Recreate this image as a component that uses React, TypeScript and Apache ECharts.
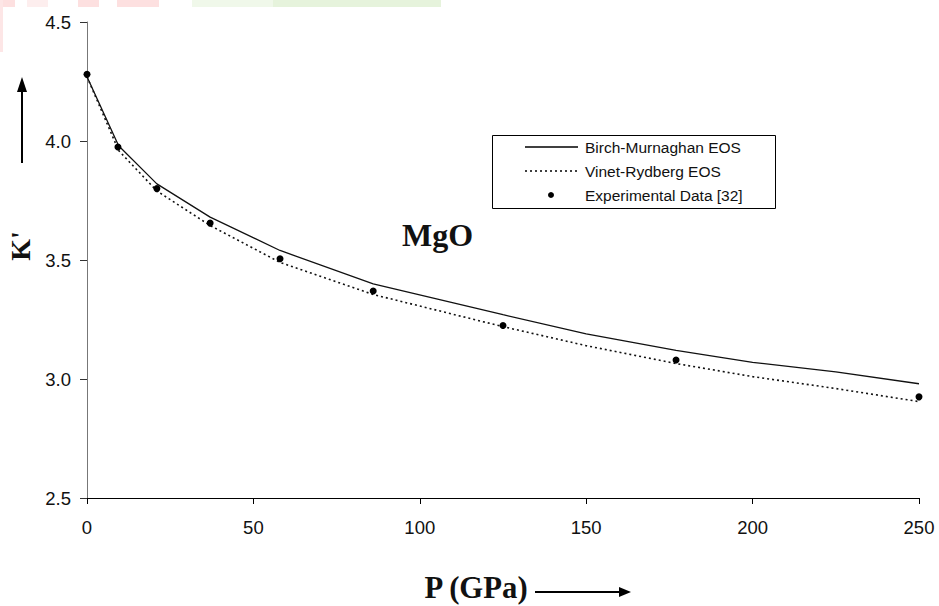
import React, { useEffect, useRef } from "react";
import * as echarts from "echarts";

const xTicks = [0, 50, 100, 150, 200, 250];
const yTicks = [2.5, 3.0, 3.5, 4.0, 4.5];

const bmP = [0, 9.5, 21, 37, 58, 86, 125, 150, 177, 200, 225, 250];
const bmK = [4.27, 3.98, 3.82, 3.68, 3.54, 3.4, 3.27, 3.19, 3.12, 3.07, 3.03, 2.98];

const vrP = [0, 9.5, 21, 37, 58, 86, 125, 150, 177, 200, 225, 250];
const vrK = [4.27, 3.96, 3.79, 3.645, 3.49, 3.355, 3.22, 3.14, 3.065, 3.01, 2.96, 2.905];

const expP = [0, 9.3, 21, 37, 58, 86, 125, 177, 250];
const expK = [4.28, 3.975, 3.8, 3.655, 3.505, 3.37, 3.225, 3.08, 2.925];

const seriesNames = ["Birch-Murnaghan EOS", "Vinet-Rydberg EOS", "Experimental Data [32]"];

export default function App() {
  const ref = useRef<HTMLDivElement>(null);
  useEffect(() => {
    document.body.style.margin = "0";
    const chart = echarts.init(ref.current!, undefined, { renderer: "svg" });
    const pair = (xs: number[], ys: number[]) => xs.map((x, i) => [x, ys[i]]);
    const legendFont = "15.5px 'Liberation Sans'";
    const rows = [147, 171, 195];
    chart.setOption({
      animation: false,
      backgroundColor: "#ffffff",
      grid: { left: 87, right: 20, top: 22, bottom: 108, containLabel: false },
      xAxis: {
        type: "value",
        min: 0,
        max: 250,
        interval: 50,
        axisLine: { show: true, onZero: false, lineStyle: { color: "#000", width: 1 } },
        axisTick: { show: true, length: 6, lineStyle: { color: "#000" } },
        axisLabel: {
          margin: 20,
          fontFamily: "Liberation Sans",
          fontSize: 18.5,
          color: "#111",
          formatter: (v: number) => (xTicks.includes(v) ? String(v) : ""),
        },
        splitLine: { show: false },
      },
      yAxis: {
        type: "value",
        min: 2.5,
        max: 4.5,
        interval: 0.5,
        axisLine: { show: true, onZero: false, lineStyle: { color: "#777", width: 1 } },
        axisTick: { show: true, length: 7, lineStyle: { color: "#333" } },
        axisLabel: {
          margin: 16,
          fontFamily: "Liberation Sans",
          fontSize: 18.5,
          color: "#111",
          formatter: (v: number) => (yTicks.some((t) => Math.abs(t - v) < 1e-9) ? v.toFixed(1) : ""),
        },
        splitLine: { show: false },
      },
      graphic: [
        { type: "rect", shape: { x: 0, y: 0, width: 15, height: 7 }, style: { fill: "#fde0e0" } },
        { type: "rect", shape: { x: 0, y: 0, width: 3, height: 52 }, style: { fill: "#fde6e6" } },
        { type: "rect", shape: { x: 27, y: 0, width: 21, height: 7 }, style: { fill: "#fdeeee" } },
        { type: "rect", shape: { x: 78, y: 0, width: 21, height: 7 }, style: { fill: "#fde0e0" } },
        { type: "rect", shape: { x: 117, y: 0, width: 42, height: 7 }, style: { fill: "#fde0e0" } },
        { type: "rect", shape: { x: 192, y: 0, width: 81, height: 7 }, style: { fill: "#f0f8ea" } },
        { type: "rect", shape: { x: 273, y: 0, width: 168, height: 7 }, style: { fill: "#e6f3dc" } },
        // legend
        {
          type: "rect",
          shape: { x: 492.5, y: 135.5, width: 283, height: 73 },
          style: { fill: "#fff", stroke: "#000", lineWidth: 1 },
          z: 10,
        },
        { type: "line", shape: { x1: 525, y1: rows[0], x2: 578, y2: rows[0] }, style: { stroke: "#000", lineWidth: 1.5 }, z: 11 },
        {
          type: "line",
          shape: { x1: 525, y1: rows[1], x2: 578, y2: rows[1] },
          style: { stroke: "#000", lineWidth: 1.6, lineDash: [2, 3] },
          z: 11,
        },
        { type: "circle", shape: { cx: 551, cy: rows[2], r: 3 }, style: { fill: "#000" }, z: 11 },
        ...seriesNames.map((n, i) => ({
          type: "text",
          x: 585,
          y: rows[i],
          z: 11,
          style: { text: n, font: legendFont, fill: "#111", verticalAlign: "middle", align: "left" },
        })),
        {
          type: "text",
          x: 402,
          y: 235,
          style: { text: "MgO", font: "bold 32px 'Liberation Serif'", fill: "#111", verticalAlign: "middle" },
        },
        {
          type: "text",
          x: 20,
          y: 246,
          rotation: Math.PI / 2,
          style: {
            text: "K'",
            font: "bold 28px 'Liberation Serif'",
            fill: "#111",
            align: "center",
            verticalAlign: "middle",
          },
        },
        { type: "line", shape: { x1: 22, y1: 163, x2: 22, y2: 90 }, style: { stroke: "#000", lineWidth: 2 } },
        { type: "polygon", shape: { points: [[22, 77], [17, 92], [27, 92]] }, style: { fill: "#000" } },
        {
          type: "text",
          x: 476,
          y: 587,
          scaleX: 0.96,
          style: {
            text: "P (GPa)",
            font: "bold 32px 'Liberation Serif'",
            fill: "#111",
            align: "center",
            verticalAlign: "middle",
          },
        },
        { type: "line", shape: { x1: 535, y1: 592, x2: 620, y2: 592 }, style: { stroke: "#000", lineWidth: 2 } },
        { type: "polygon", shape: { points: [[631, 592], [619, 587], [619, 597]] }, style: { fill: "#000" } },
      ],
      series: [
        {
          name: seriesNames[0],
          type: "line",
          data: pair(bmP, bmK),
          symbol: "none",
          lineStyle: { color: "#111", width: 1.3, type: "solid" },
          itemStyle: { color: "#111" },
          z: 3,
        },
        {
          name: seriesNames[1],
          type: "line",
          data: pair(vrP, vrK),
          symbol: "none",
          lineStyle: { color: "#111", width: 1.6, type: [2, 3] },
          itemStyle: { color: "#111" },
          z: 3,
        },
        {
          name: seriesNames[2],
          type: "scatter",
          data: pair(expP, expK),
          symbol: "circle",
          symbolSize: 7,
          itemStyle: { color: "#000", opacity: 1 },
          z: 4,
        },
      ],
    });
    return () => chart.dispose();
  }, []);
  return <div ref={ref} style={{ width: 939, height: 606, position: "absolute", left: 0, top: 0 }} />;
}
